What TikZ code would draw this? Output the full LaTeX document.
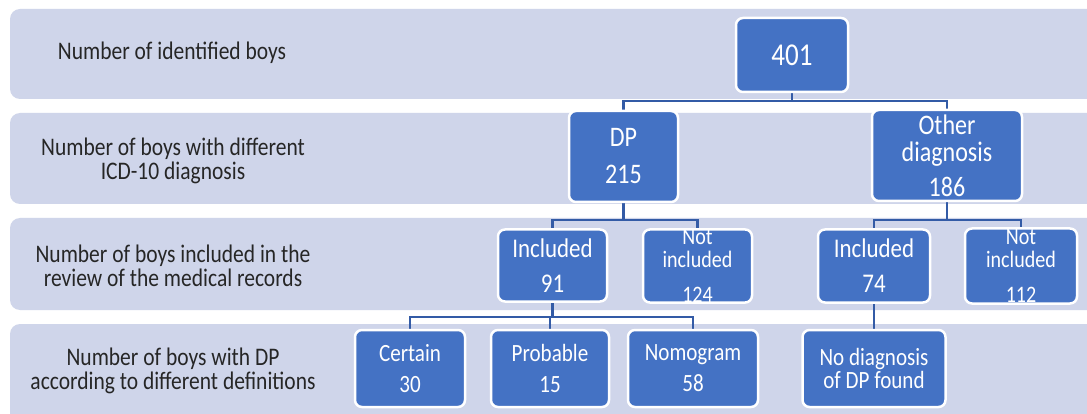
\documentclass[tikz,border=0pt]{standalone}
\usepackage{fontspec}
\setmainfont{Carlito}[FakeStretch=0.85]
\pgfdeclarelayer{back}\pgfdeclarelayer{mid}\pgfsetlayers{back,mid,main}
\definecolor{bandc}{HTML}{CFD5EA}
\definecolor{boxc}{HTML}{4472C4}
\definecolor{linec}{HTML}{335BA6}
\newcommand\myfs[2]{\fontsize{#1}{#2}\selectfont}
\begin{document}
\begin{tikzpicture}[x=1pt,y=-1pt,
  band/.style={fill=bandc,draw=none,rounded corners=10pt},
  lab/.style={align=center,text=black!85,font=\myfs{25.3}{24},inner sep=0},
  box/.style={rectangle,rounded corners=7pt,fill=boxc,draw=white,line width=2.5pt,text=white,align=center,inner sep=0},
  conn/.style={draw=linec,line width=2.6pt}]
\useasboundingbox (0,0) rectangle (1087,414);
\begin{pgfonlayer}{back}
  \fill[white] (0,0) rectangle (1087,414);
  \path[band] (10,9) rectangle (1110,99);
  \path[band] (10,113) rectangle (1110,204);
  \path[band] (10,218) rectangle (1110,310);
  \path[band] (10,324) rectangle (1110,425);
\end{pgfonlayer}
% row labels
\node[lab] (l1) at (172,53) {Number of identified boys};
\node[lab] (l2) at (173,161) {Number of boys with different\\ICD-10 diagnosis};
\node[lab] (l3) at (173,266) {Number of boys included in the\\review of the medical records};
\node[lab] (l4) at (173,371) {Number of boys with DP\\according to different definitions};
% boxes
\node[box,minimum width=112,minimum height=74,font=\myfs{31.8}{36}] (n401) at (792,55) {401};
\node[box,minimum width=109,minimum height=91,font=\myfs{28.3}{27}] (dp) at (623.5,156.5) {DP\\[10pt]215};
\node[box,minimum width=150,minimum height=91,font=\myfs{28.3}{27}] (other) at (947,155.5) {Other\\diagnosis\\[8pt]186};
\node[box,minimum width=109,minimum height=72,font=\myfs{27}{27}] (inc1) at (552.5,265.5) {Included\\[8pt]91};
\node[box,minimum width=109,minimum height=73,font=\myfs{23.6}{23}] (notinc1) at (697.5,266) {Not\\included\\[12pt]124};
\node[box,minimum width=112,minimum height=73,font=\myfs{27}{27}] (inc2) at (874,266) {Included\\[8pt]74};
\node[box,minimum width=112,minimum height=75,font=\myfs{23.6}{23}] (notinc2) at (1021,266) {Not\\included\\[12pt]112};
\node[box,minimum width=110,minimum height=77,font=\myfs{24.8}{24}] (certain) at (410,368.5) {Certain\\[7pt]30};
\node[box,minimum width=118,minimum height=77,font=\myfs{24.8}{24}] (probable) at (550,368.5) {Probable\\[7pt]15};
\node[box,minimum width=130,minimum height=77,font=\myfs{24.8}{24}] (nomogram) at (693,368.5) {Nomogram\\[7pt]58};
\node[box,minimum width=143,minimum height=77,font=\myfs{24.8}{23}] (nodiag) at (874,368.5) {No diagnosis\\of DP found};
% connectors
\coordinate (j1) at (792,101);
\coordinate (j2) at (623.5,220);
\coordinate (j3) at (947,220);
\coordinate (j4) at (552.5,317);
\begin{pgfonlayer}{mid}
  \draw[conn] (n401.south) -- (j1);
  \draw[conn] (dp.north) |- (j1) -| (other.north);
  \draw[conn] (dp.south) -- (j2);
  \draw[conn] (inc1.north) |- (j2) -| (notinc1.north);
  \draw[conn] (other.south) -- (j3);
  \draw[conn] (inc2.north) |- (j3) -| (notinc2.north);
  \draw[conn] (inc1.south) -- (j4);
  \draw[conn] (certain.north) |- (j4) -| (nomogram.north);
  \draw[conn] (probable.north) -- (probable.north |- j4);
  \draw[conn] (inc2.south) -- (nodiag.north);
\end{pgfonlayer}
\end{tikzpicture}
\end{document}
